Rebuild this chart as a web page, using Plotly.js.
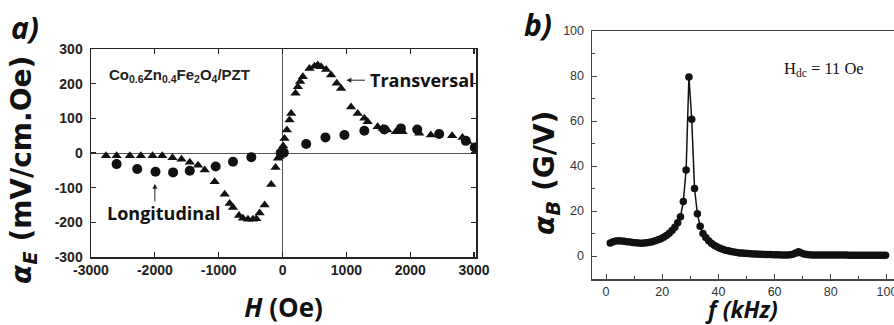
<!DOCTYPE html>
<html>
<head>
<meta charset="utf-8">
<script src="https://cdn.plot.ly/plotly-3.0.1.min.js"></script>
<style>html,body{margin:0;padding:0;background:#fff;}#chart{width:894px;height:325px;}</style>
</head>
<body>
<div id="chart"></div>
<script>
// Panel a) transversal (triangles)
const transH = [-2766,-2599,-2391,-2219,-2036,-1885,-1724,-1583,-1453,-1323,-1219,-1063,-906,-828,-776,-682,-620,-542,-464,-411,-359,-281,-177,-109,-73,-47,
  10,31,68,109,135,203,240,276,318,422,500,552,604,682,760,849,917,1073,1177,1281,1333,1490,1568,1640,1776,1880,2141,2323,2656,2818,2896];
const transV = [-8,-8,-8,-8,-8,-8,-14,-18,-27,-35,-49,-83,-119,-146,-157,-180,-188,-191,-191,-190,-173,-150,-91,-42,-15,-10,
  20,42,66,95,114,172,191,206,220,244,250,254,249,241,225,201,186,133,114,100,90,76,71,66,61,61,57,52,50,45,33];
// Panel a) longitudinal (circles)
const longH = [-2599,-2276,-1990,-1714,-1453,-1047,-776,-489,-30,20,370,672,969,1281,1594,1854,2110,2453,2870,3010];
const longV = [-32,-46,-54,-56,-51,-39,-25,-12,0,1,26,45,52,64,68,71,68,55,35,16];
// Panel b) frequency response
const freq = [1.5,2.5,3.5,4.5,5.5,6.5,7.5,8.5,9.5,10.5,11.5,12.5,13.5,14.5,15.5,16.5,17.5,18.5,19.5,20.5,
  21.5,22.5,23.5,24.5,25.5,26.5,27.5,28.5,29.5,30.5,31.5,32.5,33.5,34.5,35.5,36.5,37.5,38.5,39.5,40.5,
  41.5,42.5,43.5,44.5,45.5,46.5,47.5,48.5,49.5,50.5,51.5,52.5,53.5,54.5,55.5,56.5,57.5,58.5,59.5,60.5,
  61.5,62.5,63.5,64.5,65.5,66.5,67.5,68.5,69.5,70.5,71.5,72.5,73.5,74.5,75.5,76.5,77.5,78.5,79.5,80.5,
  81.5,82.5,83.5,84.5,85.5,86.5,87.5,88.5,89.5,90.5,91.5,92.5,93.5,94.5,95.5,96.5,97.5,98.5,99.5];
const alphaB = [5.8,6.3,6.7,6.8,6.7,6.6,6.4,6.2,6.0,5.9,5.8,5.7,5.8,5.9,6.1,6.4,6.8,7.2,7.7,8.3,
  9.1,10.1,11.3,12.8,14.8,17.5,24.2,38.2,79.6,60.8,30.0,18.8,13.2,10.0,8.2,6.8,5.7,4.8,4.1,3.5,
  3.0,2.6,2.3,2.0,1.8,1.6,1.4,1.3,1.2,1.1,1.0,0.9,0.9,0.8,0.8,0.7,0.7,0.7,0.6,0.6,
  0.6,0.5,0.5,0.5,0.6,0.8,1.3,1.9,1.4,0.9,0.7,0.6,0.5,0.5,0.5,0.5,0.5,0.5,0.5,0.5,
  0.5,0.5,0.5,0.5,0.5,0.4,0.4,0.4,0.4,0.4,0.4,0.4,0.4,0.4,0.4,0.4,0.4,0.4,0.4];
const ticksA_x = [-3000,-2000,-1000,0,1000,2000,3000];
const ticksA_y = [-300,-200,-100,0,100,200,300];
const ticksB_x = [0,20,40,60,80,100];
const ticksB_y = [0,20,40,60,80,100];

const W = 894, H = 325;
const xTitleFont = {family: 'Open Sans, sans-serif', size: 26, color: '#111', weight: 'bold'};
const yTitleFont = {family: 'DejaVu Sans, sans-serif', size: 28, color: '#111', weight: 'bold'};

const traces = [
  {x: transH, y: transV, type: 'scatter', mode: 'markers', name: 'Transversal',
   marker: {symbol: 'triangle-up', size: 9, color: '#111'}, xaxis: 'x', yaxis: 'y'},
  {x: longH, y: longV, type: 'scatter', mode: 'markers', name: 'Longitudinal',
   marker: {symbol: 'circle', size: 10, color: '#111'}, xaxis: 'x', yaxis: 'y'},
  {x: freq, y: alphaB, type: 'scatter', mode: 'lines+markers', name: 'alpha_B',
   line: {color: '#111', width: 1.5}, marker: {symbol: 'circle', size: 7.5, color: '#111'}, xaxis: 'x2', yaxis: 'y2'}
];

const axA = {
  showgrid: false, ticks: 'inside', ticklen: 5, tickwidth: 1.2, tickcolor: '#222',
  showline: true, linecolor: '#222', linewidth: 1.5, mirror: 'ticks',
  tickfont: {family: 'Liberation Sans, Arial, sans-serif', size: 14, color: '#222', weight: 'bold'}
};

const layout = {
  width: W, height: H, margin: {l: 0, r: 0, t: 0, b: 0},
  paper_bgcolor: '#fff', plot_bgcolor: '#fff', showlegend: false,
  xaxis: Object.assign({}, axA, {
    domain: [91/W, 476/W], range: [-3000, 3030], tickvals: ticksA_x, ticktext: ticksA_x.map(String),
    zeroline: true, zerolinecolor: '#555', zerolinewidth: 1, anchor: 'y',
    title: {text: '<i>H</i> (Oe)', font: xTitleFont, standoff: 23}
  }),
  yaxis: Object.assign({}, axA, {
    domain: [(H-257)/H, (H-49)/H], range: [-300, 300], tickvals: ticksA_y, ticktext: ticksA_y.map(String),
    zeroline: true, zerolinecolor: '#555', zerolinewidth: 1, anchor: 'x', ticklabelstandoff: 4
  }),
  xaxis2: {
    domain: [592/W, 1], range: [-5, 102.5], anchor: 'y2',
    showgrid: false, zeroline: false, showline: true, linecolor: '#444', linewidth: 1.5, mirror: true,
    ticks: 'inside', ticklen: 5, tickcolor: '#444', tickvals: ticksB_x, ticktext: ticksB_x.map(String),
    minor: {ticks: 'inside', ticklen: 3, tickcolor: '#444', dtick: 10, tick0: 0},
    ticklabeloverflow: 'allow',
    tickfont: {family: 'Liberation Sans, Arial, sans-serif', size: 12.5, color: '#333'},
    title: {text: '<i>f (kHz)</i>', font: {family: 'Open Sans, sans-serif', size: 23, color: '#111', weight: 'bold'}, standoff: 7}
  },
  yaxis2: {
    domain: [(H-279)/H, (H-31)/H], range: [-10.2, 100], anchor: 'x2',
    showgrid: false, zeroline: false, showline: true, linecolor: '#444', linewidth: 1.5, mirror: true,
    ticks: 'inside', ticklen: 5, tickcolor: '#444', tickvals: ticksB_y, ticktext: ticksB_y.map(String),
    minor: {ticks: 'inside', ticklen: 3, tickcolor: '#444', dtick: 10, tick0: 0},
    tickfont: {family: 'Liberation Sans, Arial, sans-serif', size: 12.5, color: '#333'}, ticklabelstandoff: 4
  },
  annotations: [
    {text: '<b><i>a)</i></b>', xref: 'paper', yref: 'paper', x: 25/W, y: (H-28)/H, xanchor: 'center', yanchor: 'middle',
     showarrow: false, font: {family: 'Open Sans, sans-serif', size: 30, color: '#111'}},
    {text: '<b><i>b)</i></b>', xref: 'paper', yref: 'paper', x: 538/W, y: (H-24)/H, xanchor: 'center', yanchor: 'middle',
     showarrow: false, font: {family: 'Open Sans, sans-serif', size: 30, color: '#111'}},
    {text: '<i>α</i><sub><i>E</i></sub> (mV/cm.Oe)', xref: 'paper', yref: 'paper', x: 24/W, y: (H-170)/H,
     xanchor: 'center', yanchor: 'middle', textangle: -90, showarrow: false, font: yTitleFont},
    {text: '<i>α</i><sub><i>B</i></sub> (G/V)', xref: 'paper', yref: 'paper', x: 546/W, y: (H-173)/H,
     xanchor: 'center', yanchor: 'middle', textangle: -90, showarrow: false, font: yTitleFont},
    {text: 'Co<sub>0.6</sub>Zn<sub>0.4</sub>Fe<sub>2</sub>O<sub>4</sub>/PZT', xref: 'x', yref: 'y', x: -2750, y: 225,
     xanchor: 'left', yanchor: 'middle', showarrow: false,
     font: {family: 'Liberation Sans, Arial, sans-serif', size: 15, color: '#222', weight: 'bold'}},
    {text: 'Transversal', xref: 'x', yref: 'y', x: 1340, y: 210, xanchor: 'left', yanchor: 'middle', showarrow: false,
     font: {family: 'Open Sans, sans-serif', size: 18, color: '#111', weight: 'bold'}},
    {text: '', xref: 'x', yref: 'y', x: 1000, y: 210, ax: 20, ay: 0, showarrow: true,
     arrowhead: 2, arrowsize: 1, arrowwidth: 1, arrowcolor: '#222'},
    {text: 'Longitudinal', xref: 'x', yref: 'y', x: -2780, y: -173, xanchor: 'left', yanchor: 'middle', showarrow: false,
     font: {family: 'Open Sans, sans-serif', size: 18, color: '#111', weight: 'bold'}},
    {text: '', xref: 'x', yref: 'y', x: -2000, y: -89, ax: 0, ay: 19, showarrow: true,
     arrowhead: 2, arrowsize: 1, arrowwidth: 1, arrowcolor: '#222'},
    {text: 'H<sub>dc</sub> = 11 Oe', xref: 'x2', yref: 'y2', x: 62.6, y: 83, xanchor: 'left', yanchor: 'middle', showarrow: false,
     font: {family: 'Liberation Serif, Times New Roman, serif', size: 16.5, color: '#111'}}
  ]
};

Plotly.newPlot('chart', traces, layout, {displayModeBar: false, staticPlot: true});
</script>
</body>
</html>
